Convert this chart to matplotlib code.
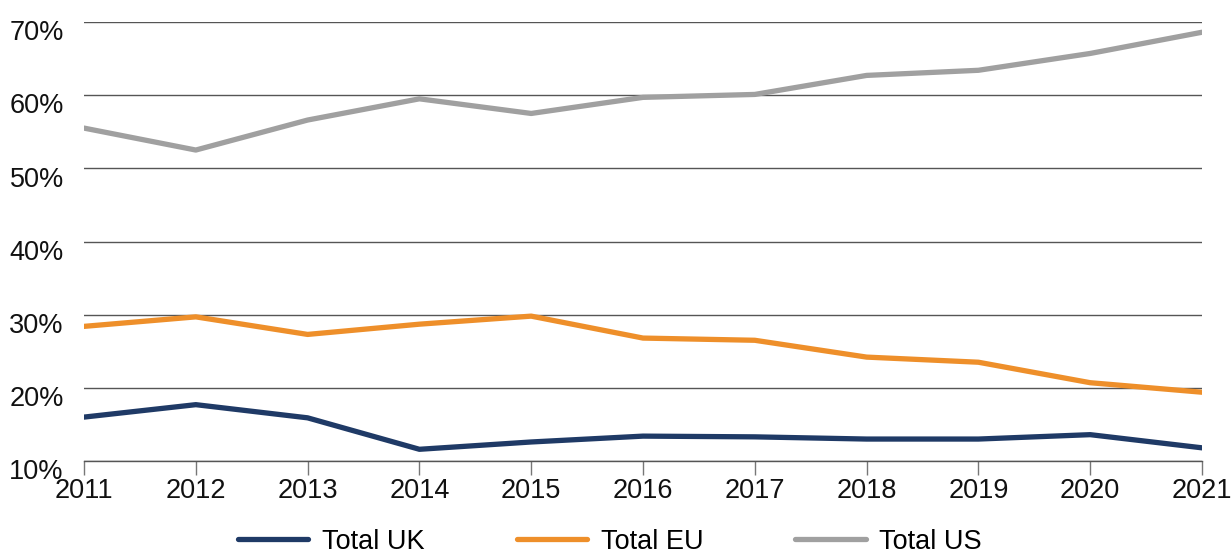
import matplotlib
matplotlib.use("Agg")
import matplotlib.pyplot as plt
import matplotlib.transforms as mtransforms
from matplotlib.ticker import FuncFormatter

plt.rcParams['font.family'] = ['Liberation Sans', 'DejaVu Sans']

years = [2011, 2012, 2013, 2014, 2015, 2016, 2017, 2018, 2019, 2020, 2021]
total_uk = [16.0, 17.7, 15.9, 11.6, 12.6, 13.4, 13.3, 13.0, 13.0, 13.6, 11.8]
total_eu = [28.4, 29.7, 27.3, 28.7, 29.8, 26.8, 26.5, 24.2, 23.5, 20.7, 19.4]
total_us = [55.5, 52.5, 56.6, 59.5, 57.5, 59.7, 60.1, 62.7, 63.4, 65.7, 68.6]
series_names = ["Total UK", "Total EU", "Total US"]
colors = ["#1f3a66", "#ee8f2a", "#a0a0a0"]
yticks = [10, 20, 30, 40, 50, 60, 70]

fig = plt.figure(figsize=(12.32, 5.54), dpi=100)
ax = fig.add_axes([84/1232, 1-461/554, (1202-84)/1232, (461-22)/554])

for vals, name, c in zip([total_uk, total_eu, total_us], series_names, colors):
    ax.plot(years, vals, color=c, lw=3.8, label=name, solid_capstyle='round', zorder=3)

ax.set_xlim(years[0], years[-1])
ax.set_ylim(10, 70)
ax.set_yticks(yticks)
ax.yaxis.set_major_formatter(FuncFormatter(lambda v, p: f"{int(v)}%"))
ax.set_xticks(years)
ax.grid(axis='y', color='#555555', lw=1.0, zorder=1)
for s in ['left', 'right', 'top']:
    ax.spines[s].set_visible(False)
ax.spines['bottom'].set_color('#555555')
ax.spines['bottom'].set_linewidth(1.0)
ax.tick_params(axis='y', length=0, pad=14.5, labelsize=19.5, colors='#111111')
ax.tick_params(axis='x', length=10, width=1, color='#777777', direction='out', pad=2, labelsize=19.5, labelcolor='#111111')

offset = mtransforms.ScaledTranslation(0, -6/72, fig.dpi_scale_trans)
for lbl in ax.get_yticklabels():
    lbl.set_transform(lbl.get_transform() + offset)

leg = fig.legend(loc='lower center', bbox_to_anchor=(0.495, -0.045), ncol=3, frameon=False,
                 fontsize=19.5, handlelength=2.6, handletextpad=0.5, columnspacing=3.4)

fig.savefig("out.png", dpi=100)
